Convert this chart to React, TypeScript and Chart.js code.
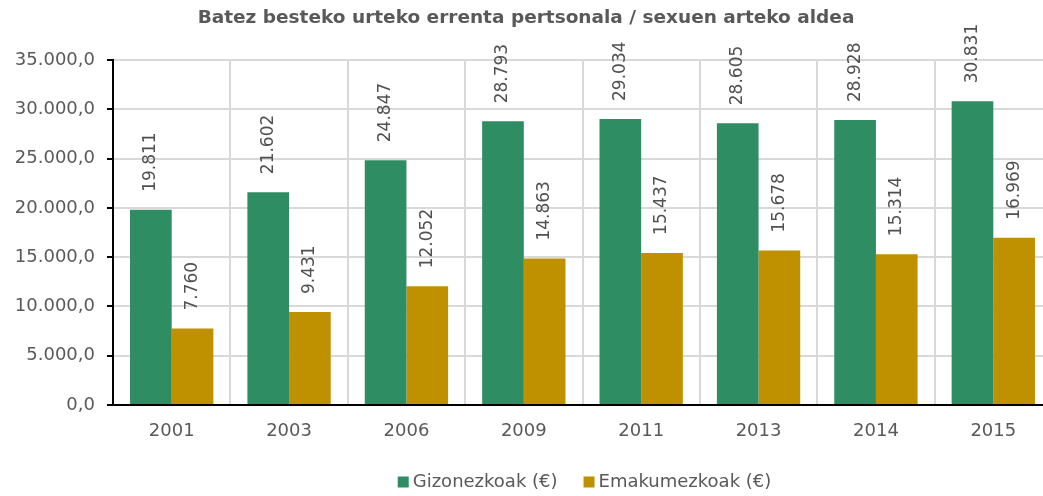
import React, { useEffect, useRef } from "react";
import { Chart, registerables } from "chart.js";

Chart.register(...registerables);

const years = ["2001", "2003", "2006", "2009", "2011", "2013", "2014", "2015"];
const men = [19811, 21602, 24847, 28793, 29034, 28605, 28928, 30831];
const women = [7760, 9431, 12052, 14863, 15437, 15678, 15314, 16969];
const seriesNames = ["Gizonezkoak (€)", "Emakumezkoak (€)"];
const titleText = "Batez besteko urteko errenta pertsonala / sexuen arteko aldea";

const FONT = "'DejaVu Sans', Verdana, sans-serif";
const GREEN = "#2E8D62";
const GOLD = "#BF9000";
const TEXT = "#595959";

function thousands(n: number): string {
  const s = Math.round(Math.abs(n)).toString();
  return s.replace(/\B(?=(\d{3})+(?!\d))/g, ".");
}

const labelPlugin = {
  id: "barLabels",
  afterDatasetsDraw(chart: any) {
    const ctx = chart.ctx;
    ctx.save();
    ctx.font = `17px ${FONT}`;
    ctx.fillStyle = "#505050";
    chart.data.datasets.forEach((ds: any, di: number) => {
      const meta = chart.getDatasetMeta(di);
      meta.data.forEach((bar: any, i: number) => {
        const v = ds.data[i];
        ctx.save();
        ctx.translate(bar.x, bar.y - 18);
        ctx.rotate(-Math.PI / 2);
        ctx.textAlign = "left";
        ctx.textBaseline = "middle";
        ctx.fillText(thousands(v), 0, 0);
        ctx.restore();
      });
    });
    ctx.restore();
  },
};

const legendPlugin = {
  id: "customLegend",
  afterDraw(chart: any) {
    const ctx = chart.ctx;
    const area = chart.chartArea;
    ctx.save();
    ctx.font = `18px ${FONT}`;
    ctx.textBaseline = "middle";
    ctx.textAlign = "left";
    const box = 11;
    const boxGap = 4;
    const itemGap = 26;
    const items = chart.data.datasets.map((ds: any) => ({
      label: ds.label,
      color: ds.backgroundColor,
      w: ctx.measureText(ds.label).width,
    }));
    const total = items.reduce((s: number, it: any) => s + box + boxGap + it.w, 0) + itemGap * (items.length - 1);
    let x = (area.left + area.right) / 2 - total / 2 + 2;
    const cy = 482;
    items.forEach((it: any) => {
      ctx.fillStyle = it.color;
      ctx.fillRect(x, cy - box / 2, box, box);
      x += box + boxGap;
      ctx.fillStyle = TEXT;
      ctx.fillText(it.label, x, cy);
      x += it.w + itemGap;
    });
    ctx.restore();
  },
};

export default function App() {
  const ref = useRef<HTMLCanvasElement>(null);
  useEffect(() => {
    document.body.style.margin = "0";
    const chart = new Chart(ref.current!, {
      type: "bar",
      data: {
        labels: years,
        datasets: [
          { label: seriesNames[0], data: men, backgroundColor: GREEN, categoryPercentage: 0.71, barPercentage: 1 },
          { label: seriesNames[1], data: women, backgroundColor: GOLD, categoryPercentage: 0.71, barPercentage: 1 },
        ],
      },
      options: {
        responsive: false,
        animation: false,
        layout: { padding: { left: 0, right: 8, top: 0, bottom: 41 } },
        plugins: {
          title: {
            display: true,
            text: titleText,
            color: TEXT,
            font: { family: FONT, size: 18.5, weight: "bold" },
            padding: { top: 7, bottom: 31 },
          },
          legend: { display: false },
          tooltip: { enabled: false },
        },
        scales: {
          x: {
            afterFit: (scale: any) => {
              scale.height = 50;
            },
            grid: { color: "#D9D9D9", lineWidth: 2, drawTicks: false, offset: true },
            border: { color: "#000000", width: 2 },
            ticks: { color: TEXT, font: { family: FONT, size: 18 }, padding: 16 },
          },
          y: {
            min: 0,
            max: 35000,
            afterFit: (scale: any) => {
              scale.width = 113;
            },
            grid: { color: "#D9D9D9", lineWidth: 2, tickColor: "#000000", tickLength: 6 },
            border: { color: "#000000", width: 2 },
            ticks: {
              stepSize: 5000,
              color: TEXT,
              font: { family: FONT, size: 18 },
              padding: 12,
              callback: (v: any) => thousands(Number(v)) + ",0",
            },
          },
        },
      },
      plugins: [labelPlugin, legendPlugin],
    });
    return () => chart.destroy();
  }, []);
  return (
    <div style={{ width: 1043, height: 496, overflow: "hidden", position: "relative" }}>
      <canvas ref={ref} width={1060} height={496} style={{ width: 1060, height: 496, display: "block" }} />
    </div>
  );
}
